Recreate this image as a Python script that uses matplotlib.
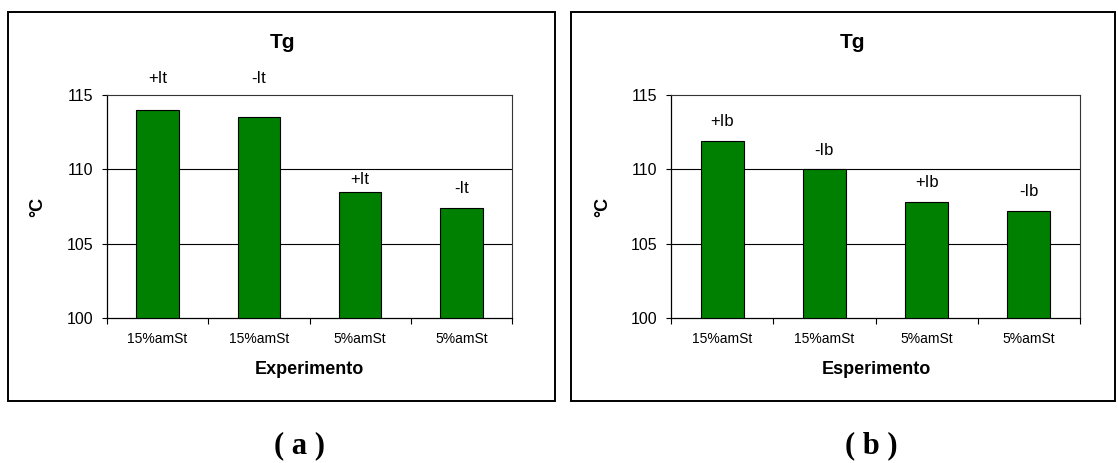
import matplotlib.pyplot as plt
from matplotlib.patches import Rectangle

# ── Data ──────────────────────────────────────────────────────────────────────
categories = ["15%amSt", "15%amSt", "5%amSt", "5%amSt"]
tg_a = [114.0, 113.5, 108.5, 107.4]
tg_b = [111.9, 110.0, 107.8, 107.2]
labels_a = ["+It", "-It", "+It", "-It"]
labels_b = ["+Ib", "-Ib", "+Ib", "-Ib"]
# label heights in panel (a) were placed by hand in the original
label_y_a = [116.1, 116.1, 109.3, 108.7]
label_off_b = 1.3

plt.rcParams["font.family"] = ["Liberation Sans", "DejaVu Sans"]

GREEN = "#008000"
W, H = 1118, 463
fig = plt.figure(figsize=(W / 100, H / 100), dpi=100, facecolor="white")


def fx(px):
    return px / W


def fy(py):
    return 1 - py / H


def panel(ax_box, frame_box, vals, labs, label_ys, xlabel, title_x, xlab_x, ylab_x, cap_x, cap):
    x0, x1, y0, y1 = frame_box
    fig.add_artist(Rectangle((fx(x0), fy(y1)), fx(x1 - x0), (y1 - y0) / H,
                             transform=fig.transFigure, fill=False,
                             ec="black", lw=1.4))
    l, r, t, b = ax_box
    ax = fig.add_axes([fx(l), fy(b), fx(r - l), (b - t) / H])
    xs = list(range(len(vals)))
    ax.bar(xs, [v - 100 for v in vals], bottom=100, width=0.42,
           color=GREEN, edgecolor="black", linewidth=0.8, zorder=3)
    for x, lab, ly in zip(xs, labs, label_ys):
        ax.text(x, ly, lab, ha="center", va="center", fontsize=12,
                clip_on=False)
    ax.set_xlim(-0.5, len(vals) - 0.5)
    ax.set_ylim(100, 115)
    ax.set_yticks([100, 105, 110, 115])
    ax.tick_params(axis="y", labelsize=11.5, direction="out", length=3.6,
                   width=0.8, pad=6)
    ax.set_xticks(xs)
    ax.set_xticklabels(categories, fontsize=10)
    ax.tick_params(axis="x", length=0, pad=10)
    ax.set_xticks([x + 0.5 for x in xs[:-1]] + [-0.5, len(vals) - 0.5], minor=True)
    ax.tick_params(axis="x", which="minor", direction="out", length=4, width=0.8)
    for yv in [105, 110]:
        ax.axhline(yv, color="black", lw=0.8, zorder=1)
    for s in ["left", "bottom"]:
        ax.spines[s].set_color("black")
        ax.spines[s].set_linewidth(0.9)
    for s in ["top", "right"]:
        ax.spines[s].set_color("#333333")
        ax.spines[s].set_linewidth(0.8)
    fig.text(fx(title_x), fy(42), "Tg", ha="center", va="center",
             fontsize=15, fontweight="bold")
    fig.text(fx(xlab_x), fy(370), xlabel, ha="center", va="center",
             fontsize=13, fontweight="bold")
    fig.text(fx(ylab_x), fy(207), "°C", ha="center", va="center",
             fontsize=13, fontweight="bold", rotation=90)
    fig.text(fx(cap_x), fy(446), cap, ha="center", va="center",
             fontsize=22, fontweight="bold",
             family=["Liberation Serif", "DejaVu Serif"])
    return ax


panel((107, 512, 95, 318), (8, 555, 12, 401), tg_a, labels_a, label_y_a,
      "Experimento", 283, 309, 38, 299, "( a )")
panel((671, 1080, 95, 318), (571, 1115, 12, 401), tg_b, labels_b,
      [v + label_off_b for v in tg_b],
      "Esperimento", 852, 876, 603, 871, "( b )")

fig.savefig("out.png", dpi=100, facecolor="white")
